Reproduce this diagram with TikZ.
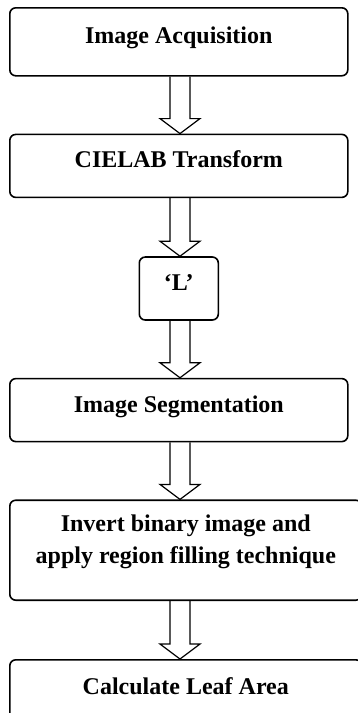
\documentclass[tikz,border=0pt]{standalone}
\usepackage{fontspec}
\setmainfont{Liberation Serif}
\usepackage{tikz}
\usetikzlibrary{positioning,calc}
\tikzstyle{block} = [rectangle,rounded corners=6pt,draw=black,line width=1.6pt,align=center,inner sep=0pt,minimum width=338pt,minimum height=63pt,text height=16pt,text depth=12pt,font=\fontsize{24}{32}\selectfont\bfseries]
\tikzstyle{hollow} = [draw=black,line width=1.2pt,line join=miter]
\newcommand{\hollowarrow}[2]{%
  \draw[hollow] ($(axis |- #1.south)+(-10,0)$) -- ($(axis |- #2.north)+(-10,-15)$) -- ++(-10,0)
    -- (axis |- #2.north) -- ++(20,-15) -- ++(-10,0) -- ($(axis |- #1.south)+(10,0)$);}

\begin{document}
\begin{tikzpicture}[x=1pt,y=-1pt]
        \useasboundingbox (0,0) rectangle (358,713);
        \clip (0,0) rectangle (358,713);
        \coordinate (axis) at (180,0);
        \node[block,anchor=north west,minimum height=68pt] (acq) at (9,7) {Image Acquisition};
        \node[block,below=57pt of acq.south west,anchor=north west] (cielab) {CIELAB Transform};
        \node[block,below=58pt of cielab,minimum width=79pt] (lchan) {‘L’};
        \node[block,anchor=north west] (seg) at ($(cielab.south west |- lchan.south)+(0,57)$) {Image Segmentation};
        \node[block,below=57pt of seg.south west,anchor=north west,minimum width=352pt,minimum height=100pt,text height=38pt,text depth=12pt] (invert) {Invert binary image and\\ apply region filling technique};
        \node[block,below=58pt of invert.south west,anchor=north west,minimum width=352pt,minimum height=65pt] (leaf) {Calculate Leaf Area};
        \hollowarrow{acq}{cielab}
        \hollowarrow{cielab}{lchan}
        \hollowarrow{lchan}{seg}
        \hollowarrow{seg}{invert}
        \hollowarrow{invert}{leaf}
    \end{tikzpicture}
\end{document}
